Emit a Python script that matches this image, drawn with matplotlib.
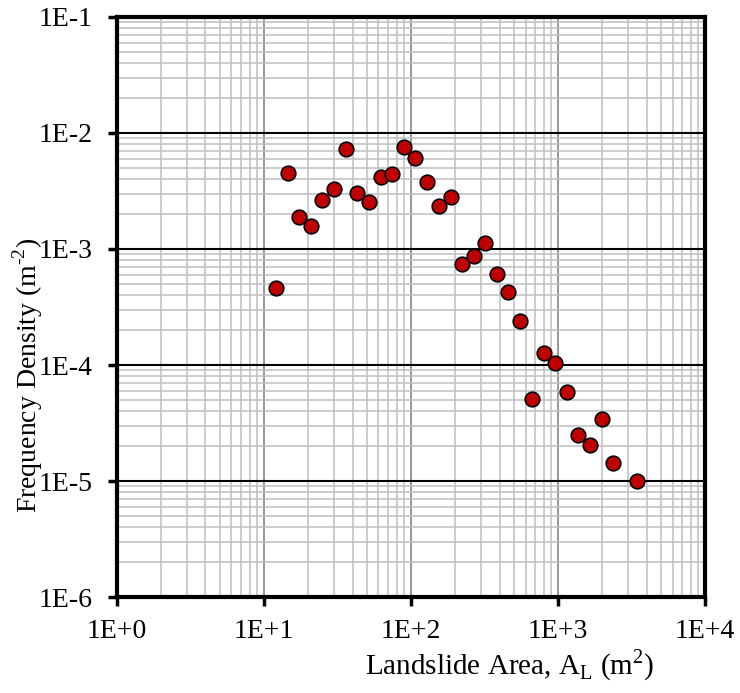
import numpy as np
import matplotlib
matplotlib.use("Agg")
import matplotlib.pyplot as plt
from matplotlib.ticker import FixedLocator, FixedFormatter, LogLocator, NullFormatter

plt.rcParams['font.family'] = ['Liberation Serif', 'DejaVu Serif']
plt.rcParams['mathtext.fontset'] = 'custom'
plt.rcParams['mathtext.rm'] = 'Liberation Serif'

# Landslide area (m^2) and frequency density (m^-2)
area = [12.1, 14.5, 17.4, 20.9, 24.9, 30.1, 35.9, 43.1, 51.8, 62.2,
        74.6, 89.2, 107, 129, 155, 186, 222, 267, 320, 385,
        459, 554, 665, 800, 954, 1146, 1374, 1643, 1972, 2367, 3411]
density = [4.6e-4, 4.52e-3, 1.90e-3, 1.58e-3, 2.63e-3, 3.27e-3, 7.23e-3, 3.04e-3, 2.54e-3, 4.20e-3,
           4.40e-3, 7.62e-3, 6.05e-3, 3.80e-3, 2.33e-3, 2.82e-3, 7.43e-4, 8.7e-4, 1.13e-3, 6.05e-4,
           4.28e-4, 2.41e-4, 5.06e-5, 1.26e-4, 1.05e-4, 5.85e-5, 2.48e-5, 2.06e-5, 3.40e-5, 1.44e-5, 1.0e-5]

x_ticks = [1e0, 1e1, 1e2, 1e3, 1e4]
x_tick_labels = ["1E+0", "1E+1", "1E+2", "1E+3", "1E+4"]
y_ticks = [1e-6, 1e-5, 1e-4, 1e-3, 1e-2, 1e-1]
y_tick_labels = ["1E-6", "1E-5", "1E-4", "1E-3", "1E-2", "1E-1"]

fig = plt.figure(figsize=(7.4, 6.93), dpi=100)
ax = fig.add_axes([0.158, 0.1385, 0.795, 0.837])

ax.set_xscale('log')
ax.set_yscale('log')
ax.set_xlim(1e0, 1e4)
ax.set_ylim(1e-6, 1e-1)

# gridlines: light minor, gray x-major, black y-major
ax.xaxis.set_minor_locator(LogLocator(base=10, subs=np.arange(2, 10)))
ax.yaxis.set_minor_locator(LogLocator(base=10, subs=np.arange(2, 10)))
ax.xaxis.set_minor_formatter(NullFormatter())
ax.yaxis.set_minor_formatter(NullFormatter())
ax.grid(which='minor', axis='both', color='#bfbfbf', linewidth=1.1)
ax.grid(which='major', axis='x', color='#858585', linewidth=1.2)
ax.grid(which='major', axis='y', color='black', linewidth=1.5)
ax.set_axisbelow(True)

ax.plot(area, density, 'o', color='#c00000', markeredgecolor='black',
        markersize=10.5, markeredgewidth=1.2, zorder=3)

ax.xaxis.set_major_locator(FixedLocator(x_ticks))
ax.xaxis.set_major_formatter(FixedFormatter(x_tick_labels))
ax.yaxis.set_major_locator(FixedLocator(y_ticks))
ax.yaxis.set_major_formatter(FixedFormatter(y_tick_labels))

ax.tick_params(which='major', direction='out', length=6.5, width=2.5, labelsize=20)
ax.tick_params(axis='y', which='major', pad=11)
ax.tick_params(axis='x', which='major', pad=9)
ax.tick_params(which='minor', length=0)

for s in ax.spines.values():
    s.set_linewidth(3)
    s.set_color('black')

ax.set_xlabel(r"Landslide Area, A$_\mathregular{L}$ (m$^\mathregular{2}$)", fontsize=21, va='center')
ax.xaxis.set_label_coords(0.668, -0.117)
ax.set_ylabel(r"Frequency Density (m$^\text{-2}$)", fontsize=20, va='center')
ax.yaxis.set_label_coords(-0.151, 0.383)

fig.savefig('out.png', dpi=100)
